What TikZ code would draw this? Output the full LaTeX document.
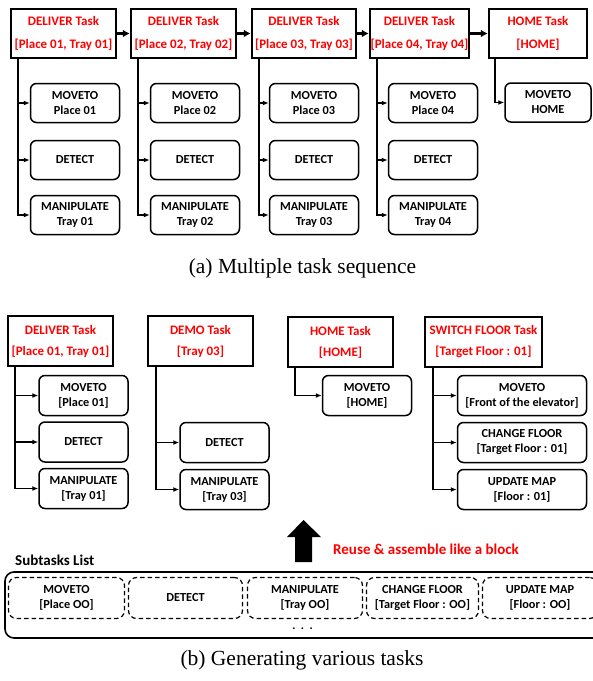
\documentclass[tikz,border=0pt]{standalone}
\usepackage{fontspec}
\setmainfont{Liberation Serif}
\newfontfamily\calfont{Carlito}
\usetikzlibrary{arrows.meta,calc}
\definecolor{tred}{RGB}{255,0,0}
\tikzset{
  task/.style={draw, line width=2.5pt, inner sep=0pt, text=tred, align=center,
    font=\calfont\bfseries\fontsize{13}{23}\selectfont},
  taskb/.style={task, font=\calfont\bfseries\fontsize{13}{21}\selectfont},
  sub/.style={draw, line width=1.5pt, rounded corners=6pt, inner sep=0pt, align=center,
    minimum width=89pt, minimum height=39pt,
    font=\calfont\bfseries\fontsize{12.3}{15}\selectfont},
  dsub/.style={draw, line width=1.2pt, dashed, dash pattern=on 4.5pt off 3pt, rounded corners=8pt,
    inner sep=0pt, align=center, minimum height=41pt,
    font=\calfont\bfseries\fontsize{12.3}{15}\selectfont},
  conn/.style={line width=1.7pt, -{Latex[length=6pt,width=5pt]}},
  seq/.style={line width=2.5pt, -{Latex[length=7pt,width=8pt]}},
  captext/.style={font=\fontsize{21.5}{25}\selectfont, inner sep=0pt},
}
\begin{document}
\begin{tikzpicture}[x=1pt,y=-1pt]
\useasboundingbox (0,0) rectangle (593,681);
% ---------------- (a) ----------------
\node[task, minimum width=105pt, minimum height=49pt] (t1) at (63.5,33.5) {DELIVER Task\\{[}Place 01, Tray 01{]}};
\node[task, minimum width=105pt, minimum height=49pt] (t2) at (183.5,33.5) {DELIVER Task\\{[}Place 02, Tray 02{]}};
\node[task, minimum width=104pt, minimum height=49pt] (t3) at (304,33.5) {DELIVER Task\\{[}Place 03, Tray 03{]}};
\node[task, minimum width=99pt, minimum height=49pt] (t4) at (419.5,33.5) {DELIVER Task\\{[}Place 04, Tray 04{]}};
\node[task, minimum width=98pt, minimum height=49pt] (t5) at (538,33.5) {HOME Task\\{[}HOME{]}};
\foreach \a/\b in {t1/t2,t2/t3,t3/t4,t4/t5} \draw[seq] (\a.east) -- (\b.west);

\node[sub] (s11) at (75,103) {MOVETO\\Place 01};
\node[sub] (s12) at (75,160) {DETECT};
\node[sub] (s13) at (75,215) {MANIPULATE\\Tray 01};
\node[sub] (s21) at (195,103) {MOVETO\\Place 02};
\node[sub] (s22) at (195,160) {DETECT};
\node[sub] (s23) at (195,215) {MANIPULATE\\Tray 02};
\node[sub] (s31) at (314,103) {MOVETO\\Place 03};
\node[sub] (s32) at (314,160) {DETECT};
\node[sub] (s33) at (314,215) {MANIPULATE\\Tray 03};
\node[sub] (s41) at (433,103) {MOVETO\\Place 04};
\node[sub] (s42) at (433,160) {DETECT};
\node[sub] (s43) at (433,215) {MANIPULATE\\Tray 04};
\node[sub, minimum width=86pt] (s51) at (548,102.5) {MOVETO\\HOME};
\foreach \t/\c in {t1/1,t2/2,t3/3,t4/4}{
  \draw[conn] ($(\t.south west)+(8,0)$) |- (s\c1.west);
  \draw[conn] ($(\t.south west)+(8,0)$) |- (s\c2.west);
  \draw[conn] ($(\t.south west)+(8,0)$) |- (s\c3.west);
}
\draw[conn] ($(t5.south west)+(7,0)$) |- (s51.west);
\node[captext] (capa) at (302.5,268) {(a) Multiple task sequence};
% ---------------- (b) ----------------
\node[taskb, minimum width=105pt, minimum height=50pt] (b1) at (60.5,341) {DELIVER Task\\{[}Place 01, Tray 01{]}};
\node[taskb, minimum width=105pt, minimum height=50pt] (b2) at (200.5,341) {DEMO Task\\{[}Tray 03{]}};
\node[taskb, minimum width=105pt, minimum height=50pt] (b3) at (340.5,342) {HOME Task\\{[}HOME{]}};
\node[taskb, minimum width=117pt, minimum height=50pt] (b4) at (483.5,342) {SWITCH FLOOR Task\\{[}Target Floor : 01{]}};

\node[sub, minimum height=40pt] (u11) at (83.5,395.5) {MOVETO\\{[}Place 01{]}};
\node[sub, minimum height=40pt] (u12) at (83.5,442) {DETECT};
\node[sub, minimum height=40pt] (u13) at (83.5,488.5) {MANIPULATE\\{[}Tray 01{]}};
\node[sub, minimum height=40pt] (u22) at (224.5,442.5) {DETECT};
\node[sub, minimum height=40pt] (u23) at (224.5,489.5) {MANIPULATE\\{[}Tray 03{]}};
\node[sub, minimum height=40pt] (u31) at (367,395.5) {MOVETO\\{[}HOME{]}};
\node[sub, minimum height=40pt, minimum width=129pt] (u41) at (522,395.5) {MOVETO\\{[}Front of the elevator{]}};
\node[sub, minimum height=40pt, minimum width=129pt] (u42) at (522,442.5) {CHANGE FLOOR\\{[}Target Floor : 01{]}};
\node[sub, minimum height=40pt, minimum width=129pt] (u43) at (522,489.5) {UPDATE MAP\\{[}Floor : 01{]}};
\draw[conn] ($(b1.south west)+(8,0)$) |- (u11.west);
\draw[conn] ($(b1.south west)+(8,0)$) |- (u12.west);
\draw[conn] ($(b1.south west)+(8,0)$) |- (u13.west);
\draw[conn] ($(b2.south west)+(9,0)$) |- (u22.west);
\draw[conn] ($(b2.south west)+(9,0)$) |- (u23.west);
\draw[conn] ($(b3.south west)+(8,0)$) |- (u31.west);
\draw[conn] ($(b4.south west)+(9,0)$) |- (u41.west);
\draw[conn] ($(b4.south west)+(9,0)$) |- (u42.west);
\draw[conn] ($(b4.south west)+(9,0)$) |- (u43.west);

% big arrow
\fill (295,562) -- (312,562) -- (312,537) -- (321,537) -- (303.5,520) -- (287,537) -- (295,537) -- cycle;
\node[anchor=west, text=tred, inner sep=0pt, font=\calfont\bfseries\fontsize{15}{18}\selectfont] (reuse) at (333,549) {Reuse \& assemble like a block};
\node[anchor=west, inner sep=0pt, font=\calfont\bfseries\fontsize{15}{18}\selectfont] (sl) at (15,560) {Subtasks List};
\draw[line width=1.6pt, rounded corners=9pt] (5,572) rectangle (610,638);
\node[dsub, minimum width=116pt] (d1) at (66.5,598) {MOVETO\\{[}Place OO{]}};
\node[dsub, minimum width=114pt] (d2) at (185.5,598) {DETECT};
\node[dsub, minimum width=115pt] (d3) at (305,598) {MANIPULATE\\{[}Tray OO{]}};
\node[dsub, minimum width=112pt] (d4) at (422.5,598) {CHANGE FLOOR\\{[}Target Floor : OO{]}};
\node[dsub, minimum width=115pt] (d5) at (540,598) {UPDATE MAP\\{[}Floor : OO{]}};
\node[inner sep=0pt, font=\calfont\bfseries\fontsize{12}{15}\selectfont] (dots) at (302.5,629) {.\ \ .\ \ .};
\node[captext] (capb) at (302,660) {(b) Generating various tasks};
\end{tikzpicture}
\end{document}
